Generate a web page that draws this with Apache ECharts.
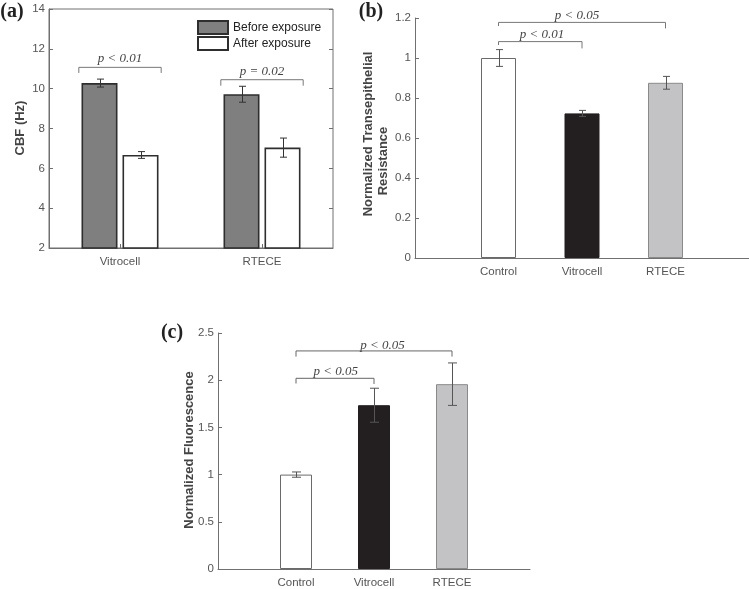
<!DOCTYPE html>
<html>
<head>
<meta charset="utf-8">
<script src="https://cdn.jsdelivr.net/npm/echarts@6/dist/echarts.min.js"></script>
<style>
html,body{margin:0;padding:0;background:#fff;}
#chart{width:749px;height:589px;}
</style>
</head>
<body>
<div id="chart"></div>
<script>
// ---------- Data ----------
// Panel (a): CBF
const catsA = ['Vitrocell', 'RTECE'];
const legendNames = ['Before exposure', 'After exposure'];
const beforeVals = [10.28, 9.72];
const beforeErr = [0.20, 0.40];
const afterVals = [6.67, 7.04];
const afterErr = [0.17, 0.48];
const ticksA = [2, 4, 6, 8, 10, 12, 14];
// brackets: [x1, x2, yTop, yLegLeft, yLegRight, textX, textY]
const bracketsA = [[-0.29, 0.29, 11.07, 10.79, 10.79, 0, 11.5], [0.71, 1.29, 10.45, 10.15, 10.15, 1, 10.85]];
const pLabelsA = ['p < 0.01', 'p = 0.02'];

// Panel (b): Normalized TEER
const catsB = ['Control', 'Vitrocell', 'RTECE'];
const teerVals = [1.0, 0.723, 0.876];
const teerErr = [0.042, 0.015, 0.032];
const ticksB = [0, 0.2, 0.4, 0.6, 0.8, 1, 1.2];
const bracketsB = [[1, 3, 1.178, 1.16, 1.148, 1.94, 1.21], [1, 2, 1.082, 1.065, 1.048, 1.52, 1.115]];
const pLabelsB = ['p < 0.05', 'p < 0.01'];

// Panel (c): Normalized Fluorescence
const catsC = ['Control', 'Vitrocell', 'RTECE'];
const fluorVals = [1.0, 1.735, 1.958];
const fluorErr = [0.028, 0.18, 0.225];
const ticksC = [0, 0.5, 1, 1.5, 2, 2.5];
const bracketsC = [[1, 3, 2.31, 2.25, 2.25, 2.11, 2.37], [1, 2, 2.02, 1.965, 1.96, 1.51, 2.09]];
const pLabelsC = ['p < 0.05', 'p < 0.05'];

// ---------- Styles ----------
const AXIS = '#707070';
const LABEL = '#555';
const SANS = '"Liberation Sans", Arial, sans-serif';
const SERIF = '"Liberation Serif", "Times New Roman", serif';
const groupFills = ['#ffffff', '#231f20', '#c3c3c5'];
const groupBorders = ['#6a6a6a', '#231f20', '#8a8a8a'];
const BAR_W_A = 36, GAP_A = 5;

function errRenderer(offset, capW, color) {
  return function (params, api) {
    const x = api.value(0), y = api.value(1), e = api.value(2);
    const t = api.coord([x, y + e]);
    const b = api.coord([x, y - e]);
    const cx = Math.round(t[0] + offset) + 0.5;
    const st = { stroke: color, lineWidth: 1 };
    return {
      type: 'group',
      children: [
        { type: 'line', shape: { x1: cx, y1: t[1], x2: cx, y2: b[1] }, style: st },
        { type: 'line', shape: { x1: cx - capW / 2, y1: t[1], x2: cx + capW / 2, y2: t[1] }, style: st },
        { type: 'line', shape: { x1: cx - capW / 2, y1: b[1], x2: cx + capW / 2, y2: b[1] }, style: st }
      ]
    };
  };
}

function bracketRenderer(labels, color) {
  return function (params, api) {
    const x1 = api.value(0), x2 = api.value(1), yT = api.value(2), yL = api.value(3), yR = api.value(4);
    const tx = api.value(5), ty = api.value(6);
    const p0 = api.coord([x1, yL]), p1 = api.coord([x1, yT]), p2 = api.coord([x2, yT]), p3 = api.coord([x2, yR]);
    const pt = api.coord([tx, ty]);
    return {
      type: 'group',
      children: [
        { type: 'polyline', shape: { points: [p0, p1, p2, p3] }, style: { stroke: color, fill: null, lineWidth: 1 } },
        { type: 'text', x: pt[0], y: pt[1], style: { text: labels[params.dataIndex], align: 'center', verticalAlign: 'middle', font: 'italic 13px ' + SERIF, fill: '#444' } }
      ]
    };
  };
}

function valueY(ticks, gridIndex, extra) {
  return Object.assign({
    type: 'value', gridIndex: gridIndex,
    min: ticks[0], max: ticks[ticks.length - 1], interval: ticks[1] - ticks[0],
    axisLine: { show: true, onZero: false, lineStyle: { color: AXIS } },
    axisTick: { show: true, inside: true, length: 4, lineStyle: { color: AXIS } },
    axisLabel: { color: LABEL, fontFamily: SANS, fontSize: 11.5, margin: 4 },
    splitLine: { show: false }
  }, extra || {});
}

function valueXCats(cats, gridIndex) {
  const vals = cats.map((c, i) => i + 1);
  return {
    type: 'value', gridIndex: gridIndex, min: 0, max: 4, interval: 1,
    axisLine: { show: true, onZero: false, lineStyle: { color: AXIS } },
    axisTick: { show: true, inside: true, length: 4, customValues: vals, lineStyle: { color: AXIS } },
    axisLabel: { customValues: vals, color: LABEL, fontFamily: SANS, fontSize: 11.5, margin: 8,
      formatter: v => cats[Math.round(v) - 1] || '' },
    splitLine: { show: false }
  };
}

const option = {
  animation: false,
  backgroundColor: '#fff',
  grid: [
    { left: 49, top: 9, width: 284, height: 239, show: true, borderColor: AXIS, borderWidth: 1, backgroundColor: 'transparent' },
    { left: 415, top: 18, width: 340, height: 240 },
    { left: 218, top: 333, width: 312, height: 239 }
  ],
  legend: {
    data: legendNames, orient: 'vertical', left: 197, top: 20, itemGap: 1, padding: 0,
    itemWidth: 30, itemHeight: 13, icon: 'rect',
    textStyle: { color: '#222', fontFamily: SANS, fontSize: 12 }
  },
  xAxis: [
    {
      type: 'category', gridIndex: 0, data: catsA,
      axisLine: { show: true, onZero: false, lineStyle: { color: AXIS } },
      axisTick: { show: true, inside: true, length: 4, alignWithLabel: true, lineStyle: { color: AXIS } },
      axisLabel: { color: LABEL, fontFamily: SANS, fontSize: 11.5, margin: 8 }
    },
    { type: 'value', gridIndex: 0, min: -0.5, max: 1.5, show: false,
      axisLine: { show: false, onZero: false }, axisTick: { show: false }, axisLabel: { show: false }, splitLine: { show: false } },
    valueXCats(catsB, 1),
    valueXCats(catsC, 2)
  ],
  yAxis: [
    valueY(ticksA, 0),
    valueY(ticksA, 0, { position: 'right', axisLabel: { show: false }, axisLine: { show: false, onZero: false } }),
    valueY(ticksB, 1),
    valueY(ticksC, 2)
  ],
  graphic: [
    { type: 'text', x: 12, y: 12, style: { text: '(a)', font: 'bold 20px ' + SERIF, fill: '#222', align: 'center', verticalAlign: 'middle' } },
    { type: 'text', x: 371, y: 12, style: { text: '(b)', font: 'bold 20px ' + SERIF, fill: '#222', align: 'center', verticalAlign: 'middle' } },
    { type: 'text', x: 172, y: 333, style: { text: '(c)', font: 'bold 20px ' + SERIF, fill: '#222', align: 'center', verticalAlign: 'middle' } },
    { type: 'text', x: 20, y: 128, rotation: Math.PI / 2, style: { text: 'CBF (Hz)', font: 'bold 13px ' + SANS, fill: '#444', align: 'center', verticalAlign: 'middle' } },
    { type: 'text', x: 368, y: 134, rotation: Math.PI / 2, style: { text: 'Normalized Transepithelial', font: 'bold 13px ' + SANS, fill: '#444', align: 'center', verticalAlign: 'middle' } },
    { type: 'text', x: 383, y: 161, rotation: Math.PI / 2, style: { text: 'Resistance', font: 'bold 13px ' + SANS, fill: '#444', align: 'center', verticalAlign: 'middle' } },
    { type: 'text', x: 189, y: 450, rotation: Math.PI / 2, style: { text: 'Normalized Fluorescence', font: 'bold 13px ' + SANS, fill: '#444', align: 'center', verticalAlign: 'middle' } }
  ],
  series: [
    // Panel (a)
    { name: legendNames[0], type: 'bar', xAxisIndex: 0, yAxisIndex: 0, data: beforeVals,
      barWidth: BAR_W_A, barGap: (GAP_A / BAR_W_A * 100) + '%',
      itemStyle: { color: '#7f7f7f', borderColor: '#2e2e2e', borderWidth: 1.6 } },
    { name: legendNames[1], type: 'bar', xAxisIndex: 0, yAxisIndex: 0, data: afterVals,
      barWidth: BAR_W_A,
      itemStyle: { color: '#ffffff', borderColor: '#2e2e2e', borderWidth: 1.6 } },
    { type: 'custom', xAxisIndex: 0, yAxisIndex: 0, z: 5,
      data: beforeVals.map((v, i) => [i, v, beforeErr[i]]),
      renderItem: errRenderer(-(BAR_W_A + GAP_A) / 2, 7, '#333') },
    { type: 'custom', xAxisIndex: 0, yAxisIndex: 0, z: 5,
      data: afterVals.map((v, i) => [i, v, afterErr[i]]),
      renderItem: errRenderer((BAR_W_A + GAP_A) / 2, 7, '#333') },
    { type: 'custom', xAxisIndex: 1, yAxisIndex: 0, z: 5, data: bracketsA,
      renderItem: bracketRenderer(pLabelsA, '#777') },

    // Panel (b)
    { type: 'bar', xAxisIndex: 2, yAxisIndex: 2, barWidth: 35,
      data: teerVals.map((v, i) => ({ value: [i + 1, v], itemStyle: { color: groupFills[i], borderColor: groupBorders[i], borderWidth: 1 } })) },
    { type: 'custom', xAxisIndex: 2, yAxisIndex: 2, z: 5,
      data: teerVals.map((v, i) => [i + 1, v, teerErr[i]]),
      renderItem: errRenderer(0, 7, '#555') },
    { type: 'custom', xAxisIndex: 2, yAxisIndex: 2, z: 5, data: bracketsB,
      renderItem: bracketRenderer(pLabelsB, '#777') },

    // Panel (c)
    { type: 'bar', xAxisIndex: 3, yAxisIndex: 3, barWidth: 32,
      data: fluorVals.map((v, i) => ({ value: [i + 1, v], itemStyle: { color: groupFills[i], borderColor: groupBorders[i], borderWidth: 1 } })) },
    { type: 'custom', xAxisIndex: 3, yAxisIndex: 3, z: 5,
      data: fluorVals.map((v, i) => [i + 1, v, fluorErr[i]]),
      renderItem: errRenderer(0, 9, '#555') },
    { type: 'custom', xAxisIndex: 3, yAxisIndex: 3, z: 5, data: bracketsC,
      renderItem: bracketRenderer(pLabelsC, '#666') }
  ]
};

const chart = echarts.init(document.getElementById('chart'), null, { renderer: 'canvas' });
chart.setOption(option);
</script>
</body>
</html>
